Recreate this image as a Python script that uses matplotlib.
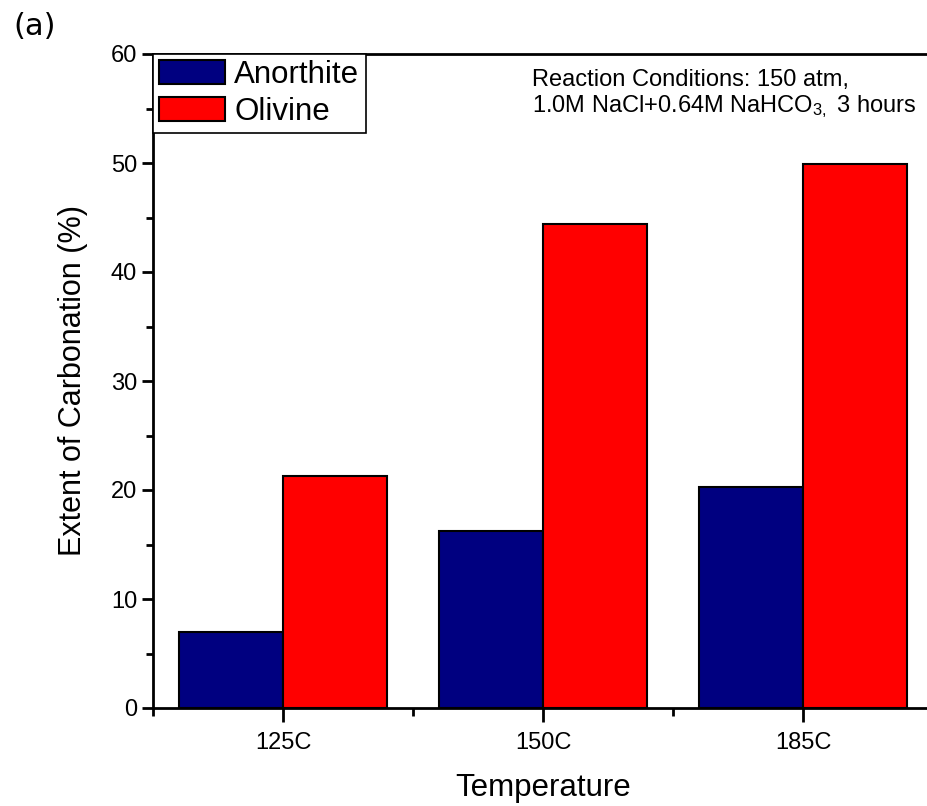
import numpy as np
import matplotlib
matplotlib.use('Agg')
import matplotlib.pyplot as plt
import matplotlib as mpl

mpl.rcParams['font.family'] = 'Liberation Sans'
mpl.rcParams['mathtext.fontset'] = 'custom'
mpl.rcParams['mathtext.rm'] = 'Liberation Sans'

temps = ['125C', '150C', '185C']
anorthite = [7.0, 16.2, 20.3]
olivine = [21.3, 44.4, 49.9]

W, H = 928, 806
fig = plt.figure(figsize=(W/100, H/100), dpi=100)
# axes runs past the right edge, as in the cropped original
ax = fig.add_axes([153/W, (H-708)/H, 780/W, 654/H])

x = np.arange(1, len(temps) + 1)
w = 0.4
ax.bar(x - w/2, anorthite, w, color='#000080', edgecolor='black', linewidth=1.5, label='Anorthite')
ax.bar(x + w/2, olivine, w, color='#ff0000', edgecolor='black', linewidth=1.5, label='Olivine')

ax.set_xlim(0.5, 3.5)
ax.set_ylim(0, 60)
ax.set_xticks(x)
ax.set_xticklabels(temps)
ax.set_xticks([0.5, 1.5, 2.5, 3.5], minor=True)
ax.set_yticks(range(0, 61, 10))
ax.set_yticks(range(5, 60, 10), minor=True)

for s in ax.spines.values():
    s.set_linewidth(2)
ax.tick_params(axis='both', which='major', direction='out', length=8, width=2, labelsize=17)
ax.tick_params(axis='both', which='minor', direction='out', length=5, width=2)
ax.tick_params(axis='x', which='major', length=10, pad=7)
ax.tick_params(axis='x', which='minor', length=6)

ax.set_xlabel('Temperature', fontsize=22.5, labelpad=14)
ax.set_ylabel('Extent of Carbonation (%)', fontsize=22, labelpad=16)

leg = ax.legend(loc='upper left', fontsize=22.5, frameon=True,
                fancybox=False, edgecolor='black', borderaxespad=0, borderpad=0.2,
                handlelength=2.1, handleheight=0.8, handletextpad=0.3,
                labelspacing=0.2)
leg.get_frame().set_linewidth(1.2)
leg.get_frame().set_alpha(1)

# reaction conditions note, two lines
fig.text(532/W, 1 - 86/H, 'Reaction Conditions: 150 atm,', fontsize=17, va='baseline', ha='left')
fig.text(532/W, 1 - 112/H, '1.0M NaCl+0.64M NaHCO$\\mathregular{_{3,}}$ 3 hours',
         fontsize=17, va='baseline', ha='left')

fig.text(13/W, 1 - 12/H, '(a)', fontsize=22, family='DejaVu Sans', va='top', ha='left')

fig.savefig('out.png', dpi=100)
